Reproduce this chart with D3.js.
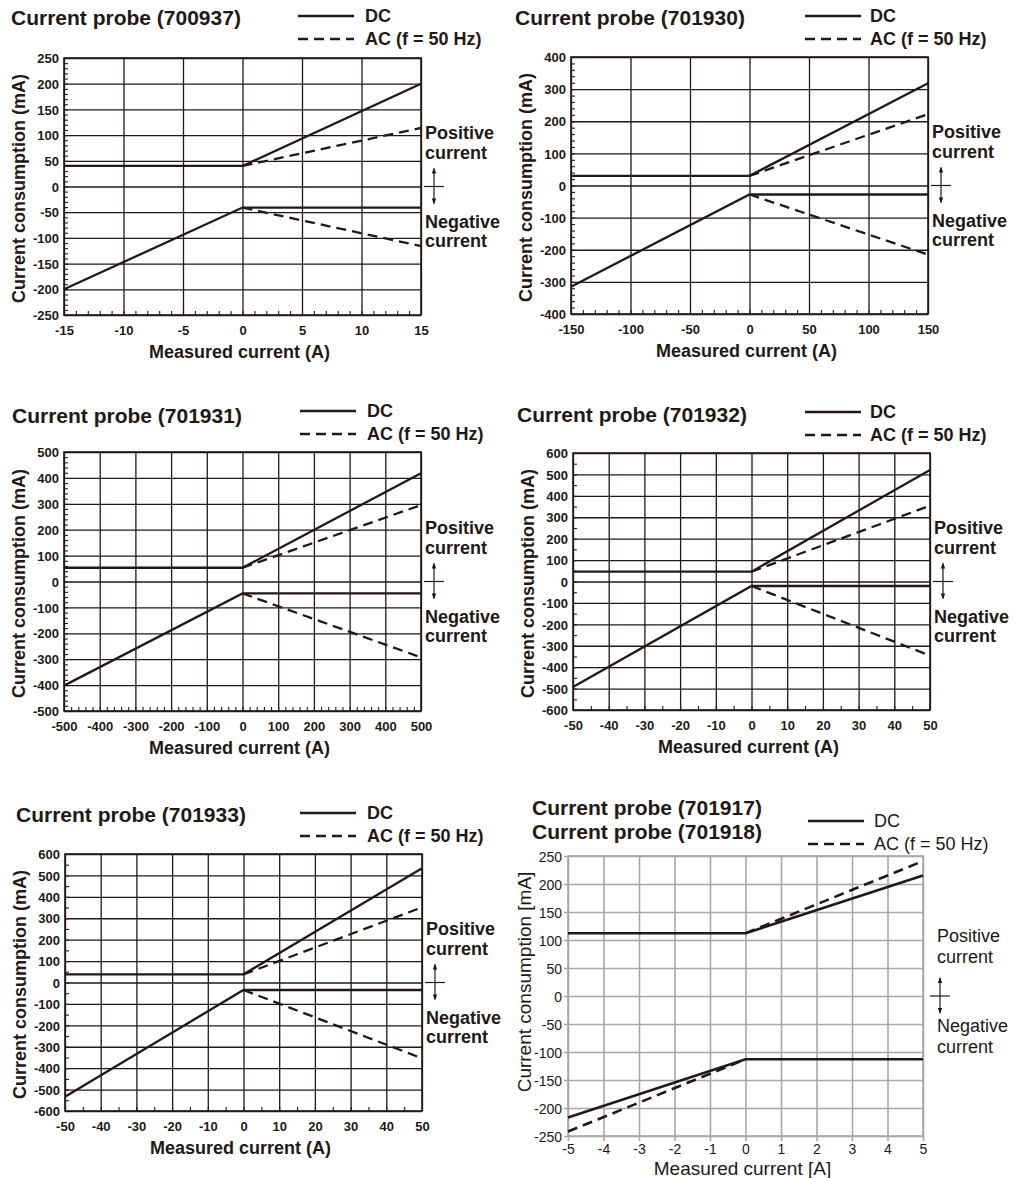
<!DOCTYPE html>
<html>
<head>
<meta charset="utf-8">
<script src="https://cdn.jsdelivr.net/npm/d3@7"></script>
<style>
  body { margin: 0; background: #fff; }
  svg { display: block; font-family: "Liberation Sans", Arial, sans-serif; }
</style>
</head>
<body>
<svg id="chart" width="1015" height="1178"></svg>
<script>
// Current consumption of the current probes, DC and AC (f = 50 Hz)

// 700937
const xTicks700937 = [-15, -10, -5, 0, 5, 10, 15];
const yTicks700937 = [-250, -200, -150, -100, -50, 0, 50, 100, 150, 200, 250];
const dcPos700937 = [[-15, 40], [0, 40], [15, 200]];
const acPos700937 = [[0, 40], [15, 114]];
const dcNeg700937 = [[-15, -200], [0, -41], [15, -41]];
const acNeg700937 = [[0, -41], [15, -116]];

// 701930
const xTicks701930 = [-150, -100, -50, 0, 50, 100, 150];
const yTicks701930 = [-400, -300, -200, -100, 0, 100, 200, 300, 400];
const dcPos701930 = [[-150, 30], [0, 30], [150, 318]];
const acPos701930 = [[0, 30], [150, 222]];
const dcNeg701930 = [[-150, -315], [0, -28], [150, -28]];
const acNeg701930 = [[0, -28], [150, -215]];

// 701931
const xTicks701931 = [-500, -400, -300, -200, -100, 0, 100, 200, 300, 400, 500];
const yTicks701931 = [-500, -400, -300, -200, -100, 0, 100, 200, 300, 400, 500];
const dcPos701931 = [[-500, 53], [0, 53], [500, 418]];
const acPos701931 = [[0, 53], [500, 295]];
const dcNeg701931 = [[-500, -402], [0, -46], [500, -46]];
const acNeg701931 = [[0, -46], [490, -288]];

// 701932
const xTicks701932 = [-50, -40, -30, -20, -10, 0, 10, 20, 30, 40, 50];
const yTicks701932 = [-600, -500, -400, -300, -200, -100, 0, 100, 200, 300, 400, 500, 600];
const dcPos701932 = [[-50, 46], [0, 46], [50, 521]];
const acPos701932 = [[0, 46], [50, 354]];
const dcNeg701932 = [[-50, -493], [0, -21], [50, -21]];
const acNeg701932 = [[0, -21], [50, -346]];

// 701933
const xTicks701933 = [-50, -40, -30, -20, -10, 0, 10, 20, 30, 40, 50];
const yTicks701933 = [-600, -500, -400, -300, -200, -100, 0, 100, 200, 300, 400, 500, 600];
const dcPos701933 = [[-50, 38], [0, 38], [50, 533]];
const acPos701933 = [[0, 38], [50, 351]];
const dcNeg701933 = [[-50, -533], [0, -35], [50, -35]];
const acNeg701933 = [[0, -35], [50, -354]];

// 701917 / 701918
const xTicks701917 = [-5, -4, -3, -2, -1, 0, 1, 2, 3, 4, 5];
const yTicks701917 = [-250, -200, -150, -100, -50, 0, 50, 100, 150, 200, 250];
const dcPos701917 = [[-5, 112], [0, 112], [5, 215]];
const acPos701917 = [[0, 112], [5, 241]];
const dcNeg701917 = [[-5, -217], [0, -113], [5, -113]];
const acNeg701917 = [[-5, -242], [0, -113]];

const ink = "#231815";
const svg = d3.select("#chart");
const fmt = d => String(d); // plain hyphen minus, as in the print

const panels = [
  { titles: ["Current probe (700937)"], titleX: 11, titleY: 25,
    left: 64, right: 421, top: 58, bottom: 315, legX: 298, legY: 16, legTextX: 365,
    xTicks: xTicks700937, yTicks: yTicks700937, minorX: 1, minorY: 10,
    dc: [dcPos700937, dcNeg700937], ac: [acPos700937, acNeg700937], unit: "(mA)", xunit: "(A)" },
  { titles: ["Current probe (701930)"], titleX: 515, titleY: 25,
    left: 571, right: 928, top: 57, bottom: 314, legX: 805, legY: 16, legTextX: 870,
    xTicks: xTicks701930, yTicks: yTicks701930, minorX: 10, minorY: 20,
    dc: [dcPos701930, dcNeg701930], ac: [acPos701930, acNeg701930], unit: "(mA)", xunit: "(A)" },
  { titles: ["Current probe (701931)"], titleX: 12, titleY: 423,
    left: 64, right: 421, top: 452, bottom: 711, legX: 300, legY: 411, legTextX: 367,
    xTicks: xTicks701931, yTicks: yTicks701931, minorX: 20, minorY: 20,
    dc: [dcPos701931, dcNeg701931], ac: [acPos701931, acNeg701931], unit: "(mA)", xunit: "(A)" },
  { titles: ["Current probe (701932)"], titleX: 517, titleY: 422,
    left: 573, right: 930, top: 453, bottom: 710, legX: 805, legY: 412, legTextX: 870,
    xTicks: xTicks701932, yTicks: yTicks701932, minorX: 5, minorY: 50,
    dc: [dcPos701932, dcNeg701932], ac: [acPos701932, acNeg701932], unit: "(mA)", xunit: "(A)" },
  { titles: ["Current probe (701933)"], titleX: 16, titleY: 822,
    left: 65, right: 422, top: 854, bottom: 1111, legX: 300, legY: 813, legTextX: 367,
    xTicks: xTicks701933, yTicks: yTicks701933, minorX: 5, minorY: 50,
    dc: [dcPos701933, dcNeg701933], ac: [acPos701933, acNeg701933], unit: "(mA)", xunit: "(A)" },
  { titles: ["Current probe (701917)", "Current probe (701918)"], titleX: 532, titleY: 815,
    left: 568, right: 923, top: 856, bottom: 1136, legX: 808, legY: 821, legTextX: 874,
    xTicks: xTicks701917, yTicks: yTicks701917, plain: true,
    dc: [dcPos701917, dcNeg701917], ac: [acPos701917, acNeg701917], unit: "[mA]", xunit: "[A]" }
];

function arrowHead(g, x, y, dir) {
  g.append("path")
    .attr("d", `M${x - 2.2},${y - dir * 6} L${x},${y} L${x + 2.2},${y - dir * 6} Z`)
    .attr("fill", ink);
}

function drawPanel(p) {
  const g = svg.append("g");
  const w = p.right - p.left, h = p.bottom - p.top;
  const x = d3.scaleLinear().domain(d3.extent(p.xTicks)).range([p.left, p.right]);
  const y = d3.scaleLinear().domain(d3.extent(p.yTicks)).range([p.bottom, p.top]);
  const gridColor = p.plain ? "#a8a8a8" : ink;
  const weight = p.plain ? "normal" : "bold";

  // grid
  g.append("g").attr("transform", `translate(0,${p.bottom})`)
    .call(d3.axisBottom(x).tickValues(p.xTicks).tickSize(-h).tickFormat(""))
    .call(s => s.select(".domain").remove())
    .selectAll("line").attr("stroke", gridColor).attr("stroke-width", p.plain ? 1.6 : 1.3);
  g.append("g").attr("transform", `translate(${p.left},0)`)
    .call(d3.axisLeft(y).tickValues(p.yTicks).tickSize(-w).tickFormat(""))
    .call(s => s.select(".domain").remove())
    .selectAll("line").attr("stroke", gridColor).attr("stroke-width", p.plain ? 1.6 : 1.3);

  // minor ticks (inside) or small outer ticks
  if (p.plain) {
    g.append("g").attr("transform", `translate(0,${p.bottom})`)
      .call(d3.axisBottom(x).tickValues(p.xTicks).tickSize(5).tickFormat(""))
      .call(s => s.select(".domain").remove())
      .selectAll("line").attr("stroke", gridColor).attr("stroke-width", 1.6);
    g.append("g").attr("transform", `translate(${p.left},0)`)
      .call(d3.axisLeft(y).tickValues(p.yTicks).tickSize(4).tickFormat(""))
      .call(s => s.select(".domain").remove())
      .selectAll("line").attr("stroke", gridColor).attr("stroke-width", 1.6);
  } else {
    const [x0, x1] = x.domain(), [y0, y1] = y.domain();
    g.append("g").attr("transform", `translate(0,${p.bottom})`)
      .call(d3.axisBottom(x).tickValues(d3.range(x0, x1, p.minorX)).tickSize(-4).tickFormat(""))
      .call(s => s.select(".domain").remove())
      .selectAll("line").attr("stroke", ink).attr("stroke-width", 1.1);
    g.append("g").attr("transform", `translate(${p.left},0)`)
      .call(d3.axisLeft(y).tickValues(d3.range(y0, y1, p.minorY)).tickSize(-4).tickFormat(""))
      .call(s => s.select(".domain").remove())
      .selectAll("line").attr("stroke", ink).attr("stroke-width", 1.1);
  }

  // frame
  g.append("rect").attr("x", p.left).attr("y", p.top).attr("width", w).attr("height", h)
    .attr("fill", "none").attr("stroke", gridColor).attr("stroke-width", 1.6);

  // tick labels
  const xl = g.append("g").attr("transform", `translate(0,${p.bottom})`)
    .call(d3.axisBottom(x).tickValues(p.xTicks).tickSize(0).tickFormat(fmt));
  xl.select(".domain").remove();
  xl.selectAll("text").attr("y", p.plain ? 18 : 20).attr("dy", null)
    .attr("fill", ink).style("font-size", p.plain ? "14px" : "13px").style("font-weight", weight)
    .style("font-family", "'Liberation Sans', Arial, sans-serif");
  const yl = g.append("g").attr("transform", `translate(${p.left},0)`)
    .call(d3.axisLeft(y).tickValues(p.yTicks).tickSize(0).tickFormat(fmt));
  yl.select(".domain").remove();
  yl.selectAll("text").attr("x", p.plain ? -6 : -5).attr("dy", "0.36em")
    .attr("fill", ink).style("font-size", p.plain ? "14px" : "13px").style("font-weight", weight)
    .style("font-family", "'Liberation Sans', Arial, sans-serif");

  // curves
  const line = d3.line().x(d => x(d[0])).y(d => y(d[1]));
  p.dc.forEach(d => g.append("path").attr("d", line(d)).attr("fill", "none")
    .attr("stroke", ink).attr("stroke-width", p.plain ? 2.6 : 2.3));
  p.ac.forEach(d => g.append("path").attr("d", line(d)).attr("fill", "none")
    .attr("stroke", ink).attr("stroke-width", p.plain ? 2.6 : 2.3).attr("stroke-dasharray", "10,6"));

  // title
  p.titles.forEach((t, i) => g.append("text").attr("x", p.titleX).attr("y", p.titleY + i * 24)
    .attr("fill", ink).style("font-size", "21px").style("font-weight", "bold").text(t));

  // legend
  g.append("line").attr("x1", p.legX).attr("x2", p.legX + 56).attr("y1", p.legY).attr("y2", p.legY)
    .attr("stroke", ink).attr("stroke-width", 2.4);
  g.append("line").attr("x1", p.legX).attr("x2", p.legX + 56).attr("y1", p.legY + 23).attr("y2", p.legY + 23)
    .attr("stroke", ink).attr("stroke-width", 2.4).attr("stroke-dasharray", "10,6");
  g.append("text").attr("x", p.legTextX).attr("y", p.legY + 6).attr("fill", ink)
    .style("font-size", "18px").style("font-weight", weight).text("DC");
  g.append("text").attr("x", p.legTextX).attr("y", p.legY + 29).attr("fill", ink)
    .style("font-size", "18px").style("font-weight", weight).text("AC (f = 50 Hz)");

  // axis titles
  g.append("text").attr("x", (p.left + p.right) / 2 - 3).attr("y", p.bottom + (p.plain ? 39 : 43))
    .attr("text-anchor", "middle").attr("fill", ink)
    .style("font-size", p.plain ? "19px" : "18px").style("font-weight", weight)
    .text("Measured current " + p.xunit);
  const cy = (p.top + p.bottom) / 2 + (p.plain ? -14 : 2);
  g.append("text").attr("transform", `translate(${p.left - (p.plain ? 37 : 39)},${cy}) rotate(-90)`)
    .attr("text-anchor", "middle").attr("fill", ink)
    .style("font-size", p.plain ? "19px" : "18px").style("font-weight", weight)
    .text("Current consumption " + p.unit);

  // positive / negative annotation
  const zero = y(0);
  const ax = p.right + (p.plain ? 14 : 4);
  const arX = p.right + (p.plain ? 17 : 13);
  const ann = p.plain ? [[-54, "Positive"], [-33, "current"], [36, "Negative"], [57, "current"]]
                      : [[-48, "Positive"], [-28, "current"], [41, "Negative"], [60, "current"]];
  ann.forEach(([dy, t]) => g.append("text").attr("x", ax).attr("y", zero + dy).attr("fill", ink)
    .style("font-size", "18px").style("font-weight", weight).text(t));
  g.append("line").attr("x1", arX - 10).attr("x2", arX + 10).attr("y1", zero).attr("y2", zero)
    .attr("stroke", ink).attr("stroke-width", 1.2);
  g.append("line").attr("x1", arX).attr("x2", arX).attr("y1", zero - 18).attr("y2", zero + 17)
    .attr("stroke", ink).attr("stroke-width", 1.2);
  arrowHead(g, arX, zero - 19, -1);
  arrowHead(g, arX, zero + 18, 1);
}

panels.forEach(drawPanel);
</script>
</body>
</html>
